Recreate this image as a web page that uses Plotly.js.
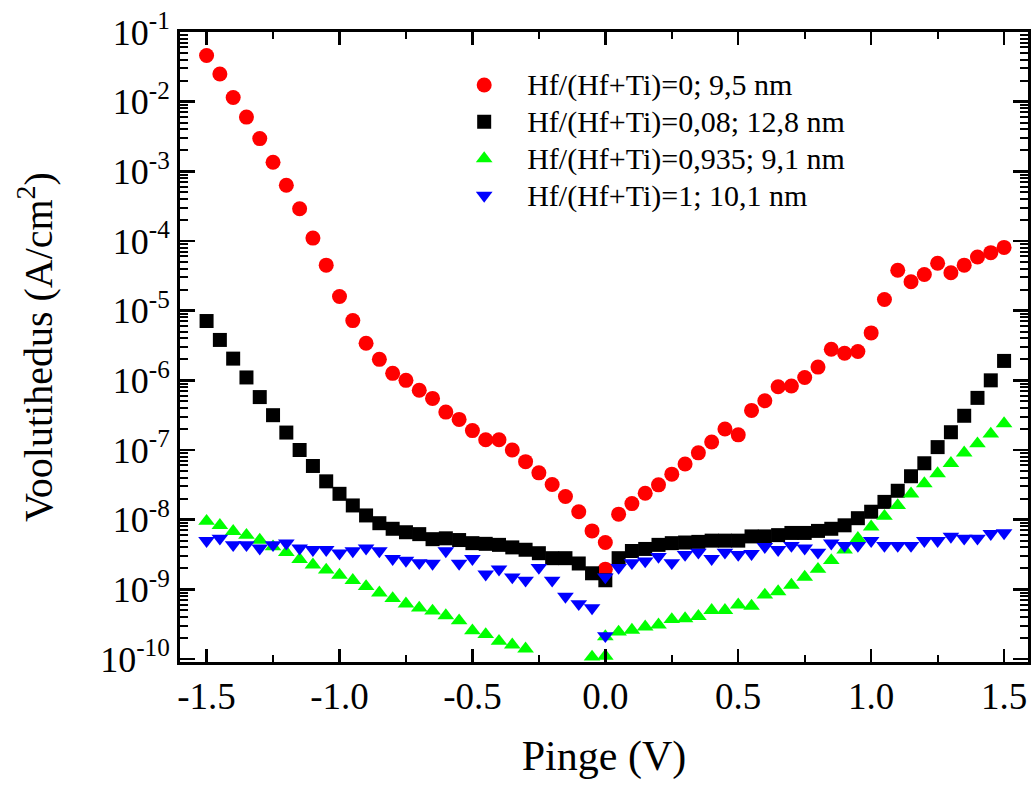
<!DOCTYPE html>
<html>
<head>
<meta charset="utf-8">
<script src="https://cdn.plot.ly/plotly-3.0.1.min.js"></script>
<style>html,body{margin:0;padding:0;background:#fff;}#chart{width:1032px;height:785px;}</style>
</head>
<body>
<div id="chart"></div>
<script>
// Voltage (V): sweep -1.5 -> 0 and 0 -> 1.5 (0 measured twice)
var voltage = [-1.5,-1.45,-1.4,-1.35,-1.3,-1.25,-1.2,-1.15,-1.1,-1.05,-1.0,-0.95,-0.9,-0.85,-0.8,-0.75,-0.7,-0.65,-0.6,-0.55,-0.5,-0.45,-0.4,-0.35,-0.3,-0.25,-0.2,-0.15,-0.1,-0.05,
  0.0, 0.0,
  0.05,0.1,0.15,0.2,0.25,0.3,0.35,0.4,0.45,0.5,0.55,0.6,0.65,0.7,0.75,0.8,0.85,0.9,0.95,1.0,1.05,1.1,1.15,1.2,1.25,1.3,1.35,1.4,1.45,1.5];

// Current density (A/cm^2)
var hf0 = [4.6e-2,2.5e-2,1.15e-2,6.0e-3,2.95e-3,1.35e-3,6.3e-4,2.9e-4,1.1e-4,4.5e-5,1.6e-5,7.2e-6,3.4e-6,2.0e-6,1.26e-6,1.0e-6,7.2e-7,5.5e-7,3.5e-7,2.75e-7,1.9e-7,1.4e-7,1.4e-7,1.0e-7,6.8e-8,4.7e-8,3.2e-8,2.15e-8,1.3e-8,6.9e-9,
  4.7e-9,1.95e-9,
  1.2e-8,1.7e-8,2.4e-8,3.16e-8,4.5e-8,6.3e-8,9.1e-8,1.3e-7,2.0e-7,1.65e-7,3.7e-7,5.1e-7,8.1e-7,8.3e-7,1.1e-6,1.55e-6,2.8e-6,2.45e-6,2.6e-6,4.8e-6,1.45e-5,3.8e-5,2.6e-5,3.3e-5,4.8e-5,3.5e-5,4.5e-5,5.9e-5,6.8e-5,8.1e-5];

var hf008 = [7.1e-6,3.8e-6,2.05e-6,1.1e-6,5.75e-7,3.16e-7,1.78e-7,1.0e-7,5.9e-8,3.55e-8,2.35e-8,1.6e-8,1.15e-8,8.9e-9,7.4e-9,6.6e-9,6.2e-9,5.25e-9,5.4e-9,5.1e-9,4.6e-9,4.5e-9,4.35e-9,4.0e-9,3.7e-9,3.3e-9,2.8e-9,2.8e-9,2.35e-9,1.7e-9,
  1.35e-9,null,
  2.8e-9,3.55e-9,3.8e-9,4.35e-9,4.6e-9,4.7e-9,4.8e-9,5.0e-9,5.0e-9,5.0e-9,5.75e-9,5.75e-9,6.0e-9,6.45e-9,6.45e-9,6.9e-9,7.4e-9,8.3e-9,1.05e-8,1.3e-8,1.8e-8,2.6e-8,4.2e-8,6.45e-8,1.1e-7,1.8e-7,3.1e-7,5.6e-7,1.0e-6,1.9e-6];

var hf0935 = [9.5e-9,8.3e-9,6.8e-9,6.0e-9,5.1e-9,4.1e-9,3.4e-9,2.7e-9,2.25e-9,1.9e-9,1.6e-9,1.35e-9,1.1e-9,8.9e-10,7.4e-10,6.2e-10,5.4e-10,4.9e-10,4.2e-10,3.55e-10,2.55e-10,2.25e-10,1.8e-10,1.6e-10,1.4e-10,null,null,null,6.8e-11,1.07e-10,
  1.1e-10,2.1e-10,
  2.45e-10,2.6e-10,2.9e-10,3.1e-10,3.7e-10,3.8e-10,4.1e-10,5.0e-10,5.0e-10,6.0e-10,5.75e-10,8.3e-10,9.3e-10,1.15e-9,1.5e-9,1.95e-9,2.6e-9,3.7e-9,5.4e-9,7.9e-9,1.12e-8,1.6e-8,2.35e-8,3.3e-8,4.6e-8,6.45e-8,9.1e-8,1.23e-7,1.7e-7,2.4e-7];

var hf1 = [5.0e-9,5.4e-9,4.35e-9,4.35e-9,3.9e-9,4.35e-9,4.6e-9,3.9e-9,3.7e-9,3.7e-9,3.3e-9,3.55e-9,3.9e-9,3.55e-9,2.75e-9,2.6e-9,2.4e-9,2.35e-9,3.55e-9,2.35e-9,2.75e-9,1.65e-9,1.95e-9,1.5e-9,1.35e-9,2.05e-9,1.35e-9,7.9e-10,6.2e-10,5.4e-10,
  2.15e-10,1.5e-9,
  2.05e-9,2.4e-9,2.55e-9,2.95e-9,2.4e-9,3.16e-9,3.4e-9,2.75e-9,3.4e-9,3.16e-9,3.25e-9,4.1e-9,3.7e-9,4.25e-9,3.9e-9,3.4e-9,4.6e-9,4.25e-9,4.25e-9,5.0e-9,4.25e-9,4.25e-9,4.25e-9,5.0e-9,5.0e-9,5.75e-9,5.4e-9,5.4e-9,6.3e-9,6.45e-9];

var seriesNames = ['Hf/(Hf+Ti)=0; 9,5 nm','Hf/(Hf+Ti)=0,08; 12,8 nm','Hf/(Hf+Ti)=0,935; 9,1 nm','Hf/(Hf+Ti)=1; 10,1 nm'];

var xTickVals = [-1.5,-1.0,-0.5,0.0,0.5,1.0,1.5];
var xTickText = ['-1.5','-1.0','-0.5','0.0','0.5','1.0','1.5'];
var yTickVals = [1e-10,1e-9,1e-8,1e-7,1e-6,1e-5,1e-4,1e-3,1e-2,1e-1];
var yTickText = ['10<sup>-10</sup>','10<sup>-9</sup>','10<sup>-8</sup>','10<sup>-7</sup>','10<sup>-6</sup>','10<sup>-5</sup>','10<sup>-4</sup>','10<sup>-3</sup>','10<sup>-2</sup>','10<sup>-1</sup>'];

// minor tick positions (axis decoration)
var xMinor = [];
for (var v = -1.5; v <= 1.51; v += 0.5) { xMinor.push(+(v + 0.25).toFixed(2)); }
xMinor.unshift(-1.75);
var yMinor = [];
for (var e = -11; e <= -2; e++) { for (var m = 2; m <= 9; m++) { yMinor.push(m * Math.pow(10, e)); } }

var FONT = '"Liberation Serif", "Times New Roman", Times, serif';
var datasets = [
  {y: hf0, color: '#ff0000', symbol: 'circle', size: 15},
  {y: hf008, color: '#000000', symbol: 'square', size: 14},
  {y: hf0935, color: '#00ff00', symbol: 'triangle-up', size: 14.5},
  {y: hf1, color: '#0000ff', symbol: 'triangle-down', size: 14.5}
];
var traces = datasets.map(function (d, i) {
  return {
    x: voltage, y: d.y, type: 'scatter', mode: 'markers',
    // legend rows are spaced from the legend font size; the label itself is drawn at 30px
    name: '<span style="font-size:30px">' + seriesNames[i] + '</span>',
    marker: {color: d.color, symbol: d.symbol, size: d.size, line: {width: 0}}
  };
});

var layout = {
  width: 1032, height: 785,
  margin: {l: 180, r: 4, t: 32, b: 123, pad: 0},
  paper_bgcolor: '#fff', plot_bgcolor: '#fff',
  font: {family: FONT, color: '#000'},
  showlegend: true,
  legend: {x: 0.308, y: 0.953, xanchor: 'left', yanchor: 'top', bgcolor: 'rgba(0,0,0,0)',
           itemwidth: 76, font: {family: FONT, size: 26, color: '#000'}, tracegroupgap: 0},
  xaxis: {
    range: [-1.6, 1.59], tickmode: 'array', tickvals: xTickVals, ticktext: xTickText,
    ticks: 'inside', ticklen: 13, tickwidth: 2.5, tickcolor: '#000',
    showline: true, linewidth: 3, linecolor: '#000', mirror: 'allticks',
    showgrid: false, zeroline: false,
    tickfont: {family: FONT, size: 37, color: '#000'},
    minor: {tickmode: 'array', tickvals: xMinor, ticks: 'inside', ticklen: 7, tickwidth: 2, tickcolor: '#000', showgrid: false},
    title: {text: 'Pinge (V)', font: {family: FONT, size: 42, color: '#000'}, standoff: 25}
  },
  yaxis: {
    type: 'log', range: [-10.043, -1.0], tickmode: 'array', tickvals: yTickVals, ticktext: yTickText,
    ticks: 'inside', ticklen: 15, tickwidth: 2.5, tickcolor: '#000',
    showline: true, linewidth: 3, linecolor: '#000', mirror: 'allticks',
    showgrid: false, zeroline: false,
    tickfont: {family: FONT, size: 36, color: '#000'},
    minor: {tickmode: 'array', tickvals: yMinor, ticks: 'inside', ticklen: 8, tickwidth: 2, tickcolor: '#000', showgrid: false},
    title: {text: 'Voolutihedus (A/cm<sup>2</sup>)', font: {family: FONT, size: 40, color: '#000'}, standoff: 36}
  }
};

Plotly.newPlot('chart', traces, layout, {displayModeBar: false, staticPlot: true});
</script>
</body>
</html>
